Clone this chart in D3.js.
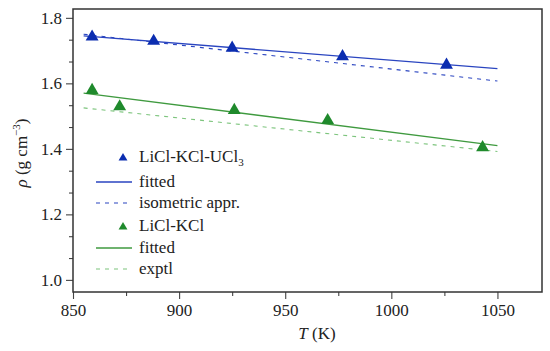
<!DOCTYPE html>
<html>
<head>
<meta charset="utf-8">
<script src="https://cdn.jsdelivr.net/npm/d3@7"></script>
<style>
  body { margin: 0; background: #fff; }
  svg text { font-family: "Liberation Serif", "Times New Roman", "DejaVu Serif", serif; fill: #222; }
</style>
</head>
<body>
<svg id="chart" width="550" height="351"></svg>
<script>
// measured points
const tempUCl3 = [859, 888, 925, 977, 1026];
const rhoUCl3 = [1.745, 1.732, 1.711, 1.685, 1.659];
const tempKCl = [859, 872, 926, 970, 1043];
const rhoKCl = [1.582, 1.532, 1.521, 1.490, 1.407];

// straight lines, start and end
const lineT = [855, 1050];
const fitUCl3 = [1.745, 1.645];
const isoUCl3 = [1.750, 1.607];
const fitKCl = [1.570, 1.410];
const exptlKCl = [1.525, 1.392];

const xTicks = [850, 900, 950, 1000, 1050];
const yTicks = [1.0, 1.2, 1.4, 1.6, 1.8];

const blue = "#0b2db0", blueLine = "#2a45c0";
const green = "#1f8a2c", greenLine = "#3f9a3f", greenDash = "#7cc47c";
const serif = "'Liberation Serif', 'Times New Roman', 'DejaVu Serif', serif";

const svg = d3.select("#chart");
const plot = { left: 73, right: 542, top: 9, bottom: 292 };

const x = d3.scaleLinear().domain([850, 1071]).range([plot.left, plot.right]);
const y = d3.scaleLinear().domain([0.963, 1.827]).range([plot.bottom, plot.top]);

// axes
svg.append("g")
  .attr("transform", `translate(0,${plot.bottom})`)
  .call(d3.axisBottom(x).tickValues(xTicks).tickSize(7).tickPadding(5).tickFormat(d3.format("d")));
svg.append("g")
  .attr("transform", `translate(0,${plot.bottom})`)
  .call(d3.axisBottom(x).tickValues([875, 925, 975, 1025]).tickSize(4).tickFormat(""));

svg.append("g")
  .attr("transform", `translate(${plot.left},0)`)
  .call(d3.axisLeft(y).tickValues(yTicks).tickSize(7).tickPadding(4).tickFormat(d3.format(".1f")));
const yMinor = [];
yTicks.forEach(t => { yMinor.push(t + 0.2 / 3, t + 0.4 / 3); });
svg.append("g")
  .attr("transform", `translate(${plot.left},0)`)
  .call(d3.axisLeft(y).tickValues(yMinor.filter(v => v < 1.827)).tickSize(4).tickFormat(""));

svg.selectAll(".domain").remove();
svg.selectAll("g").attr("font-family", serif);
svg.selectAll(".tick line").attr("stroke", "#444").attr("stroke-width", 1.1);
svg.selectAll(".tick text").attr("font-size", 17).attr("fill", "#222")
  .attr("font-family", serif);

// frame
svg.append("rect")
  .attr("x", plot.left).attr("y", plot.top)
  .attr("width", plot.right - plot.left).attr("height", plot.bottom - plot.top)
  .attr("fill", "none").attr("stroke", "#333").attr("stroke-width", 1.5);

// lines
const lines = [
  { v: isoUCl3, color: blueLine, dash: "4,5", w: 1.1 },
  { v: fitUCl3, color: blueLine, dash: null, w: 1.4 },
  { v: exptlKCl, color: greenDash, dash: "4,5", w: 1.1 },
  { v: fitKCl, color: greenLine, dash: null, w: 1.4 }
];
const line = d3.line().x(d => x(d[0])).y(d => y(d[1]));
lines.forEach(l => {
  svg.append("path")
    .datum(lineT.map((t, i) => [t, l.v[i]]))
    .attr("d", line)
    .attr("fill", "none")
    .attr("stroke", l.color)
    .attr("stroke-width", l.w)
    .attr("stroke-dasharray", l.dash);
});

// markers
const tri = d3.symbol().type(d3.symbolTriangle).size(72);
const drawPts = (ts, rs, color) => {
  svg.append("g").selectAll("path")
    .data(ts.map((t, i) => [t, rs[i]]))
    .enter().append("path")
    .attr("d", tri)
    .attr("transform", d => `translate(${x(d[0])},${y(d[1]) + 1})`)
    .attr("fill", color);
};
drawPts(tempUCl3, rhoUCl3, blue);
drawPts(tempKCl, rhoKCl, green);

// legend
const legend = svg.append("g").attr("transform", "translate(96,0)");
const legRows = [
  { y: 157, kind: "tri", color: blue, label: "LiCl-KCl-UCl", sub: "3" },
  { y: 182, kind: "line", color: blueLine, label: "fitted" },
  { y: 203, kind: "dash", color: blueLine, label: "isometric appr." },
  { y: 226, kind: "tri", color: green, label: "LiCl-KCl" },
  { y: 248, kind: "line", color: greenLine, label: "fitted" },
  { y: 269, kind: "dash", color: greenDash, label: "exptl" }
];
const smallTri = d3.symbol().type(d3.symbolTriangle).size(34);
legRows.forEach(r => {
  if (r.kind === "tri") {
    legend.append("path").attr("d", smallTri)
      .attr("transform", `translate(27,${r.y + 1})`).attr("fill", r.color);
  } else {
    legend.append("line").attr("x1", 0).attr("x2", 36)
      .attr("y1", r.y).attr("y2", r.y)
      .attr("stroke", r.color).attr("stroke-width", r.kind === "line" ? 1.4 : 1.1)
      .attr("stroke-dasharray", r.kind === "dash" ? "4,5" : null);
  }
  const t = legend.append("text").attr("x", 43).attr("y", r.y + 5)
    .attr("font-family", serif).attr("font-size", 17).text(r.label);
  if (r.sub) t.append("tspan").attr("dy", 4).attr("font-size", 11).text(r.sub);
});

// axis titles
svg.append("text")
  .attr("x", 317).attr("y", 339)
  .attr("text-anchor", "middle").attr("font-family", serif).attr("font-size", 17)
  .html('<tspan font-style="italic">T</tspan> (K)');

svg.append("text")
  .attr("transform", "translate(27,153) rotate(-90)")
  .attr("text-anchor", "middle").attr("font-family", serif).attr("font-size", 17)
  .html('<tspan font-style="italic">ρ</tspan> (g cm<tspan dy="-7" font-size="11">−3</tspan><tspan dy="7">)</tspan>');
</script>
</body>
</html>
